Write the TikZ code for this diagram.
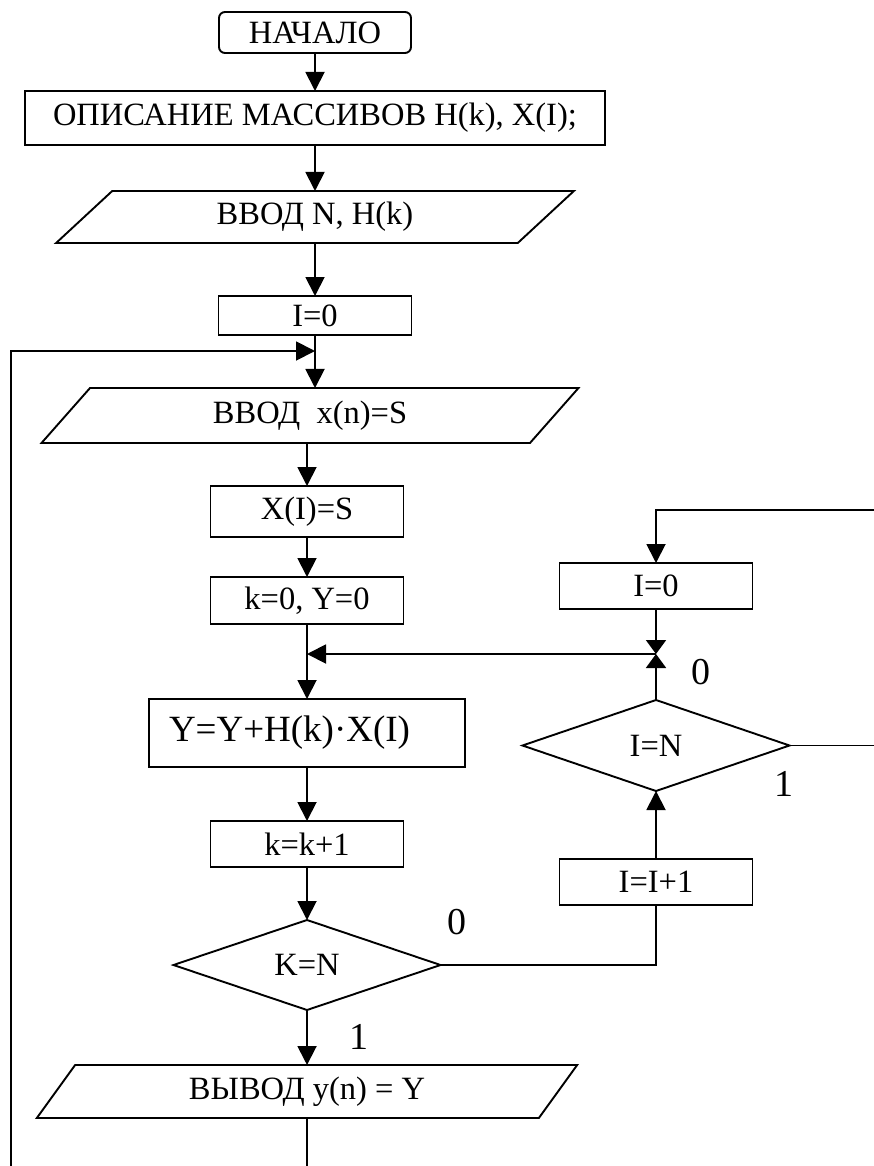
\documentclass[tikz,border=0pt]{standalone}
\usepackage{fontspec}
\setmainfont{Liberation Serif}
\usetikzlibrary{arrows.meta,shapes.geometric}
\begin{document}
\begin{tikzpicture}[x=1pt,y=-1pt,
  every node/.style={outer sep=0pt, inner sep=0pt, font=\fontsize{32.5}{37}\selectfont},
  proc/.style={draw, line width=1.9pt, rectangle, minimum width=193pt, minimum height=46pt},
  term/.style={proc, rounded corners=6pt},
  io/.style={draw, line width=1.9pt, trapezium, trapezium stretches=true},
  cond/.style={draw, line width=1.9pt, diamond, aspect=3, minimum width=267pt, minimum height=90pt},
  flow/.style={line width=1.9pt, -{Triangle[length=19pt,width=19pt]}},
  bowtie/.style={line width=1.9pt, -{Triangle[length=14pt,width=20pt]}},
  conn/.style={line width=1.9pt},
  lbl/.style={font=\fontsize{38}{42}\selectfont}
]
\useasboundingbox (0,0) rectangle (874,1166);

% main column
\node[term, minimum width=192pt, minimum height=41pt] (start) at (315,32.5) {НАЧАЛО};
\node[proc, minimum width=580pt, minimum height=54pt] (decl) at (315,118) {ОПИСАНИЕ МАССИВОВ H(k), X(I);};
\node[io, trapezium left angle=47.3, trapezium right angle=132.7,
      minimum width=518pt, minimum height=52pt] (in1) at (315,217) {ВВОД N, H(k)};
\node[proc, minimum height=39pt] (i0) at (315,315.5) {I=0};
\coordinate (j1) at (315,351);
\node[io, trapezium left angle=54, trapezium right angle=126,
      minimum width=538pt, minimum height=55pt] (in2) at (310,415.5) {ВВОД\ \ x(n)=S};
\node[proc, minimum height=51pt] (xs) at (307,511.5) {X(I)=S};
\node[proc, minimum height=47pt] (k0) at (307,600.5) {k=0, Y=0};
\coordinate (j3) at (307,654);
\node[proc, minimum width=316pt, minimum height=68pt, text width=276pt, inner xsep=20pt,
      align=left, font=\fontsize{37}{42}\selectfont] (sum) at (307,733) {Y=Y+H(k)·X(I)};
\node[proc] (kk) at (307,844) {k=k+1};
\node[cond] (dk) at (307,965) {K=N};
\node[io, trapezium left angle=56.6, trapezium right angle=123.4,
      minimum width=541pt, minimum height=53pt] (out) at (307,1091.5) {ВЫВОД y(n) = Y};

% inner loop column
\node[proc] (ri0) at (656,586) {I=0};
\coordinate (j2) at (656,654);
\node[cond, minimum height=91pt] (di) at (656,745.5) {I=N};
\node[proc] (ii) at (656,882) {I=I+1};

% free ends at the page border
\coordinate (rt) at (874,510);
\coordinate (bl) at (11,1166);
\coordinate (bm) at (307,1166);

% branch labels
\node[lbl] (l0a) at (457,922) {0};
\node[lbl] (l1a) at (359,1037) {1};
\node[lbl] (l0b) at (701,672) {0};
\node[lbl] (l1b) at (784,784) {1};

% connectors
\draw[flow] (start) -- (decl);
\draw[flow] (decl) -- (in1);
\draw[flow] (in1) -- (i0);
\draw[flow] (i0.south) -- (i0.south |- in2.north);
\draw[flow] (xs.north |- in2.south) -- (xs.north);
\draw[flow] (xs) -- (k0);
\draw[flow] (k0) -- (sum);
\draw[flow] (sum) -- (kk);
\draw[flow] (kk) -- (dk);
\draw[flow] (dk) -- (out);
\draw[conn] (out.south) -- (bm);
\draw[flow] (bl) |- (j1);

\draw[flow] (rt) -| (ri0.north);
\draw[bowtie] (ri0.south) -- (j2);
\draw[bowtie] (di.north) -- (j2);
\draw[flow] (j2) -- (j3);
\draw[conn] (di.east) -- (di.east -| rt);
\draw[flow] (ii.north) -- (di.south);
\draw[conn] (ii.south) |- (dk.east);
\end{tikzpicture}
\end{document}
